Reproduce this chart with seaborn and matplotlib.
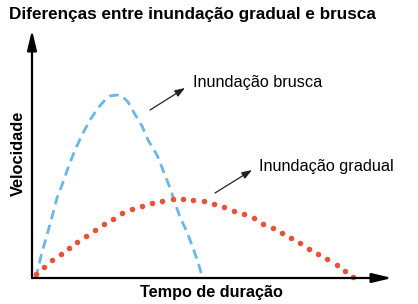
import matplotlib
matplotlib.use("Agg")
import matplotlib.pyplot as plt
import seaborn as sns
import pandas as pd

# Data (arbitrary units: time on x, velocity on y)
brusca_t = [3, 5, 10, 15, 20, 25, 30, 36, 43, 50, 58, 66, 73, 78, 85, 90, 96, 101,
            110, 116, 125, 131, 138, 143, 148, 155, 161, 166, 170]
brusca_v = [0, 5, 26, 43, 61, 80, 93, 110, 128, 143, 158, 170, 178, 182, 183, 182, 176, 167,
            152, 138, 123, 108, 90, 75, 61, 46, 30, 16, 2]

gradual_t = [4, 12, 20, 29, 37, 45, 54, 63, 72, 81, 90, 100, 110, 120, 130, 141, 151, 161,
             172, 182, 192, 202, 212, 222, 231, 241, 250, 259, 268, 277, 286, 295, 305, 313, 321]
gradual_v = [4, 11, 18, 24, 30, 36, 42, 48, 54, 59, 65, 69, 72, 75, 77, 79, 79, 78,
             77, 74, 71, 67, 64, 60, 54, 50, 45, 40, 35, 29, 24, 19, 13, 7, 1]

title = "Diferenças entre inundação gradual e brusca"
xlabel = "Tempo de duração"
ylabel = "Velocidade"
label_brusca = "Inundação brusca"
label_gradual = "Inundação gradual"

sns.set_theme(style="white")
plt.rcParams["font.family"] = ["Liberation Sans", "DejaVu Sans"]

W, H = 418, 304
fig = plt.figure(figsize=(W / 100, H / 100), dpi=100)
ax = fig.add_axes([32 / W, (H - 278) / H, 360 / W, 248 / H])
ax.set_xlim(0, 360)
ax.set_ylim(0, 248)

df_b = pd.DataFrame({"t": brusca_t, "v": brusca_v})
df_g = pd.DataFrame({"t": gradual_t, "v": gradual_v})

sns.lineplot(data=df_b, x="t", y="v", ax=ax, color="#6db6e8", linewidth=2.0,
             linestyle=(0, (3.4, 2.1)), clip_on=False)
sns.scatterplot(data=df_g, x="t", y="v", ax=ax, color="#e8533b", s=16, linewidth=0,
                clip_on=False, zorder=3)

for s in ax.spines.values():
    s.set_visible(False)
ax.set_xticks([])
ax.set_yticks([])
ax.set_xlabel("")
ax.set_ylabel("")

# axis arrows
arrow_kw = dict(arrowstyle="-|>,head_length=1.0,head_width=0.24", color="black",
                lw=1.6, shrinkA=0, shrinkB=0)
ax.annotate("", xy=(1, 0), xytext=(0, 0), xycoords="axes fraction",
            textcoords="axes fraction", arrowprops=arrow_kw, annotation_clip=False)
ax.annotate("", xy=(0, 1), xytext=(0, 0), xycoords="axes fraction",
            textcoords="axes fraction", arrowprops=arrow_kw, annotation_clip=False)

# annotation arrows
ann_kw = dict(arrowstyle="-|>,head_length=0.5,head_width=0.18", color="#222222",
              lw=0.9, shrinkA=0, shrinkB=0)
ax.annotate("", xy=(153, 190), xytext=(118, 168), arrowprops=ann_kw, annotation_clip=False)
ax.annotate("", xy=(220, 108), xytext=(183, 85), arrowprops=ann_kw, annotation_clip=False)

fig.text(193 / W, 1 - 83 / H, label_brusca, fontsize=11.7, ha="left", va="center",
         color="black")
fig.text(259 / W, 1 - 166 / H, label_gradual, fontsize=11.7, ha="left", va="center",
         color="black")

fig.text(9 / W, 1 - 14 / H, title, fontsize=12.3, fontweight="bold", ha="left",
         va="center", color="black")
fig.text(211 / W, 1 - 292 / H, xlabel, fontsize=11.7, fontweight="bold", ha="center",
         va="center", color="black")
fig.text(18 / W, 1 - 153 / H, ylabel, fontsize=11.8, fontweight="bold", ha="center",
         va="center", rotation=90, color="black")

fig.savefig("out.png", dpi=100, facecolor="white")
